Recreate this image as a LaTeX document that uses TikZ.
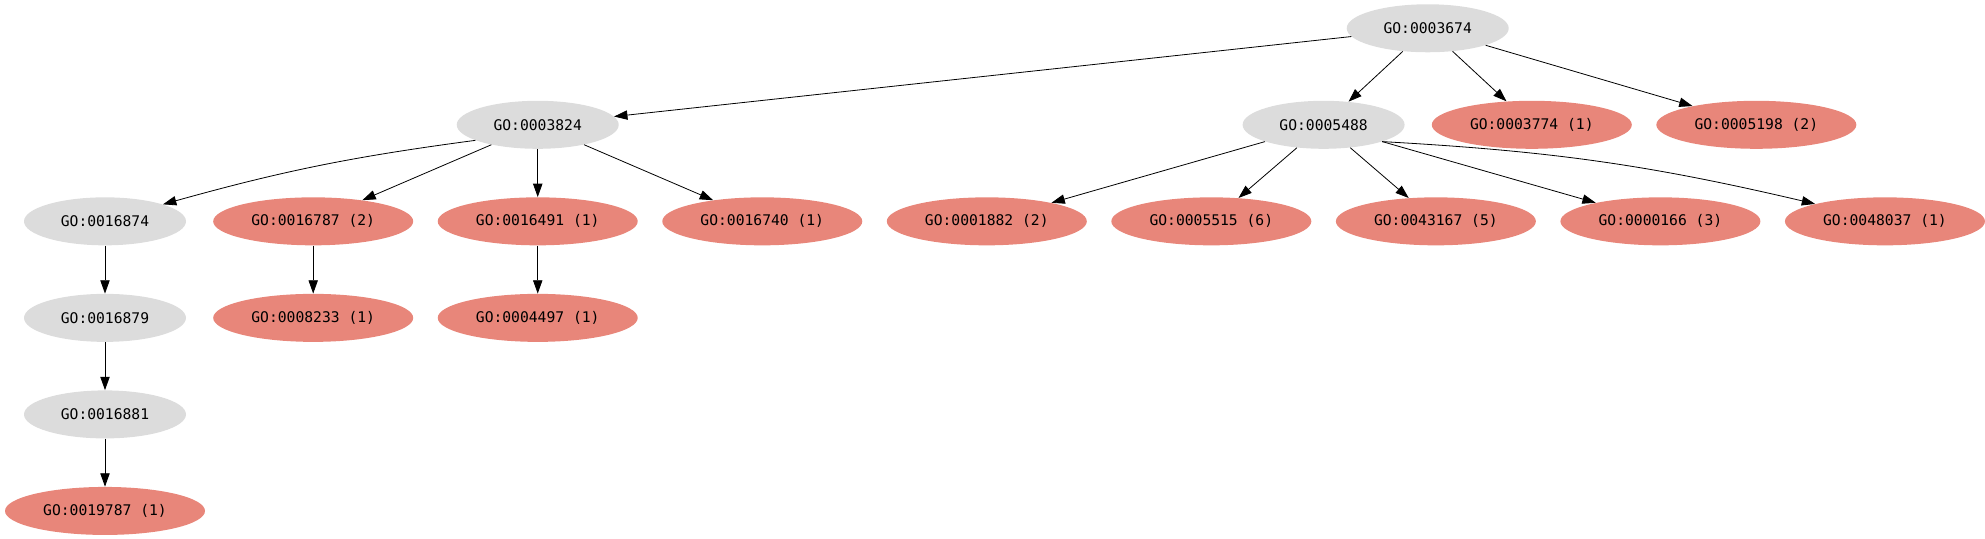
\documentclass[tikz,border=0pt]{standalone}
\usepackage{fontspec}
\newfontfamily\gofont{DejaVu Sans Mono}
\usetikzlibrary{positioning, arrows.meta, calc, shapes.geometric}
\definecolor{termgray}{HTML}{DCDCDC}
\definecolor{termhit}{HTML}{E8867A}
\tikzset{
  term/.style={ellipse, inner sep=0pt, minimum height=36pt, font=\gofont\fontsize{11}{13}\selectfont},
  grayterm/.style={term, fill=termgray, minimum width=121.5pt},
  hitterm/.style={term, fill=termhit, minimum width=150pt},
  link/.style={-{Triangle[length=10pt, width=7pt]}, line width=0.6pt},
}
\begin{document}
\begin{tikzpicture}[node distance=36pt and 18pt]
  \useasboundingbox (0,0) rectangle (1488.75pt,-404.25pt);
  % third rank, left to right
  \node[grayterm] (g16874) at (78.75pt,-166pt) {GO:0016874};
  \node[hitterm, right=20pt of g16874] (g16787) {GO:0016787 (2)};
  \node[hitterm, right=of g16787] (g16491) {GO:0016491 (1)};
  \node[hitterm, right=of g16491] (g16740) {GO:0016740 (1)};
  \node[hitterm, right=of g16740] (g1882) {GO:0001882 (2)};
  \node[hitterm, right=of g1882] (g5515) {GO:0005515 (6)};
  \node[hitterm, right=of g5515] (g43167) {GO:0043167 (5)};
  \node[hitterm, right=of g43167] (g166) {GO:0000166 (3)};
  \node[hitterm, right=of g166] (g48037) {GO:0048037 (1)};
  % deeper ranks
  \node[grayterm, below=of g16874] (g16879) {GO:0016879};
  \node[grayterm, below=of g16879] (g16881) {GO:0016881};
  \node[hitterm, below=of g16881] (g19787) {GO:0019787 (1)};
  \node[hitterm, below=of g16787] (g8233) {GO:0008233 (1)};
  \node[hitterm, below=of g16491] (g4497) {GO:0004497 (1)};
  % upper ranks
  \node[grayterm, above=of g16491] (g3824) {GO:0003824};
  \node[grayterm, above=of $(g5515.north)!0.5!(g43167.north)$] (g5488) {GO:0005488};
  \node[hitterm, right=20pt of g5488] (g3774) {GO:0003774 (1)};
  \node[hitterm, right=of g3774] (g5198) {GO:0005198 (2)};
  \node[grayterm, above=of $(g5488.north)!0.5!(g3774.north)$] (g3674) {GO:0003674};
  \foreach \a/\b in {g3674/g3824, g3674/g5488, g3674/g3774, g3674/g5198, g3824/g16787, g3824/g16491, g3824/g16740, g16874/g16879, g16879/g16881, g16881/g19787, g16787/g8233, g16491/g4497, g5488/g1882, g5488/g5515, g5488/g43167, g5488/g166} \draw[link] (\a) -- (\b);
  \draw[link] (g3824.-166) to[bend right=4] (g16874);
  \draw[link] (g5488.-16) to[bend left=5] (g48037);
\end{tikzpicture}
\end{document}
